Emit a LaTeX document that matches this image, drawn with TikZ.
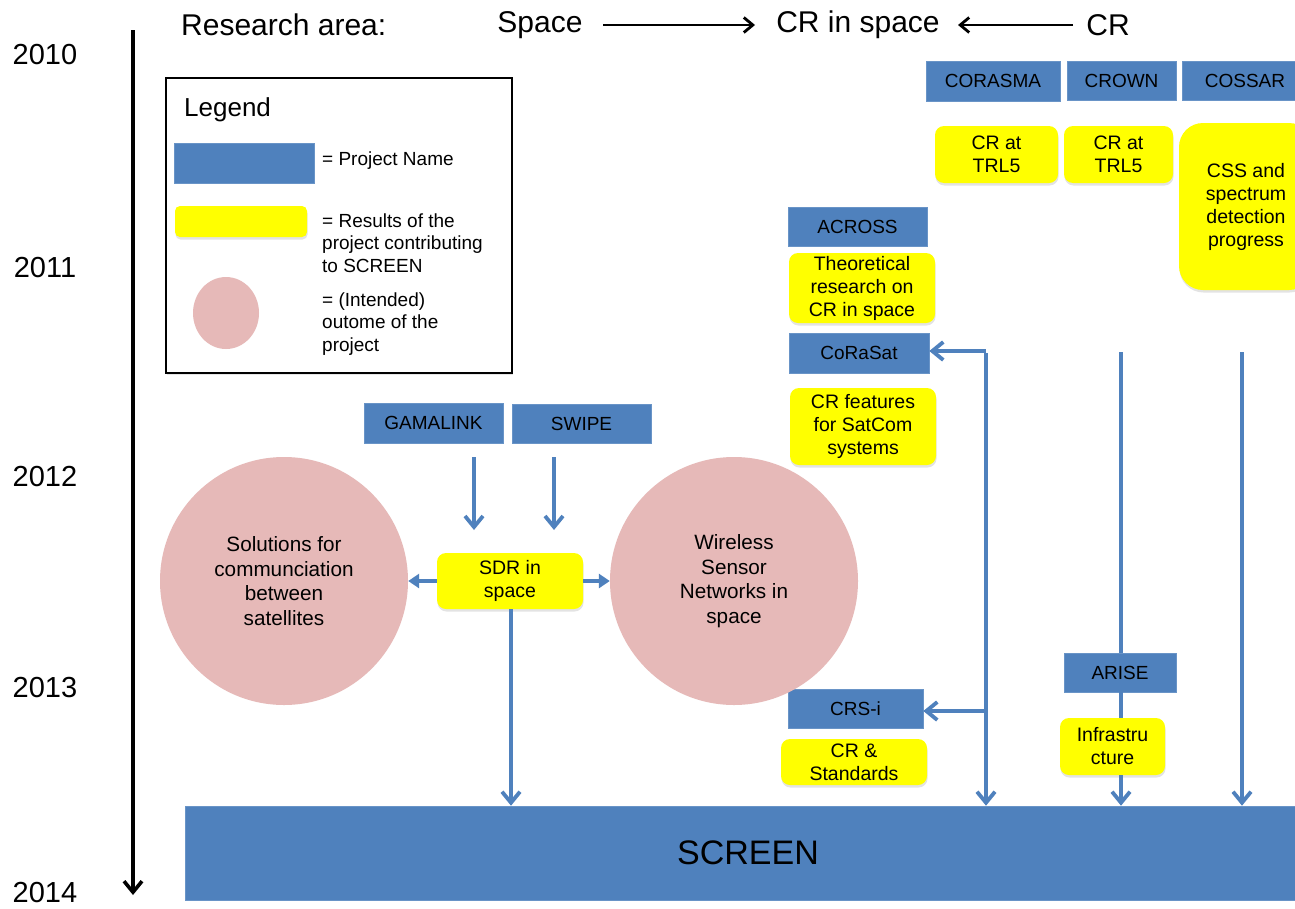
\documentclass[tikz,border=0pt]{standalone}
\usepackage{fontspec}
\setmainfont{Liberation Sans}
\usetikzlibrary{arrows.meta,shadows,backgrounds,shapes.geometric}
\definecolor{pblue}{HTML}{4F81BD}
\definecolor{pyel}{HTML}{FFFF00}
\definecolor{ppink}{HTML}{E6B9B8}
\begin{document}
\begin{tikzpicture}[x=1pt,y=-1pt,
  proj/.style={fill=pblue, draw=pblue!85!white, line width=0.6pt, inner sep=0pt, font=\fontsize{19}{22}\selectfont},
  res/.style={fill=pyel, rounded corners=9pt, inner sep=0pt, align=center, font=\fontsize{19.5}{23}\selectfont, drop shadow={shadow xshift=0.5pt, shadow yshift=-2.5pt, opacity=0.22}},
  outc/.style={circle, fill=ppink, inner sep=0pt, minimum size=248pt, align=center, font=\fontsize{20.7}{24.5}\selectfont},
  flow/.style={pblue, line width=3.8pt, -{Straight Barb[length=11pt,width=18pt]}},
  tri/.style={pblue, line width=3.8pt, -{Triangle[length=11pt,width=14pt]}},
  hdr/.style={font=\fontsize{30}{33}\selectfont, inner sep=0pt},
  yr/.style={font=\fontsize{29}{32}\selectfont, inner sep=0pt},
  leg/.style={font=\fontsize{19}{22.5}\selectfont, align=left, anchor=west, inner sep=0pt},
  blk/.style={black, line width=2.8pt, -{Straight Barb[length=9pt,width=15pt]}},
]
\useasboundingbox (0,0) rectangle (1295,908);
\clip (0,0) rectangle (1295,908);
\fill[white] (0,0) rectangle (1295,908);

% header
\node[hdr, anchor=west] (ra) at (181,25) {Research area:};
\node[hdr] (sp) at (540,25) {Space};
\node[hdr] (crs) at (858,25) {CR in space};
\node[hdr] (cr) at (1108,25) {CR};
\coordinate (h1) at (603,25); \coordinate (h2) at (755,25);
\coordinate (h3) at (1073,25); \coordinate (h4) at (958,25);
\draw[blk] (h1) -- (h2);
\draw[blk] (h3) -- (h4);

% years and timeline
\node[yr] (y0) at (45,55) {2010};
\node[yr] (y1) at (45,268) {2011};
\node[yr] (y2) at (45,477) {2012};
\node[yr] (y3) at (45,688) {2013};
\node[yr] (y4) at (45,893) {2014};
\coordinate (t0) at (133,30);
\coordinate (t1) at (133,895);
\draw[black, line width=3.6pt, -{Straight Barb[length=11pt,width=18pt]}] (t0) -- (t1);

% legend
\node[draw=black, line width=1.5pt, fill=white, minimum width=346pt, minimum height=295pt, inner sep=0pt,
      drop shadow={shadow xshift=1pt, shadow yshift=-1.5pt, opacity=0.2}] (legend) at (339,225.5) {};
\node[font=\fontsize{26}{29}\selectfont, anchor=west, inner sep=0pt] (legt) at (184,110) {Legend};
\node[proj, minimum width=140pt, minimum height=40pt] (lp) at (244,163) {};
\node[leg] (lpt) at (322,161) {= Project Name};
\node[res, rounded corners=5pt, minimum width=132pt, minimum height=31pt] (lr) at (241,221.5) {};
\node[leg] (lrt) at (322,243) {= Results of the\\project contributing\\to SCREEN};
\node[ellipse, fill=ppink, minimum width=66pt, minimum height=72pt, inner sep=0pt] (lo) at (226,313) {};
\node[leg] (lot) at (322,324) {= (Intended)\\outome of the\\project};

% project boxes
\node[proj, minimum width=134pt, minimum height=40pt] (corasma) at (993,81) {CORASMA};
\node[proj, minimum width=109pt, minimum height=39pt] (crown) at (1121.5,80.5) {CROWN};
\node[proj, minimum width=126pt, minimum height=39pt] (cossar) at (1245,80.5) {COSSAR};
\node[proj, minimum width=139pt, minimum height=39pt] (across) at (857.5,226.5) {ACROSS};
\node[proj, minimum width=140pt, minimum height=40pt] (corasat) at (859,353) {CoRaSat};
\node[proj, minimum width=139pt, minimum height=40pt] (gamalink) at (433.5,423) {GAMALINK};
\node[proj, minimum width=139pt, minimum height=39pt] (swipe) at (581.5,423.5) {SWIPE};
\node[proj, minimum width=135pt, minimum height=39pt] (crsi) at (855.5,708.5) {CRS-i};

% result boxes
\node[res, minimum width=123pt, minimum height=57pt] (r1) at (996.5,154.5) {CR at\\TRL5};
\node[res, minimum width=109pt, minimum height=57pt] (r2) at (1118.5,154.5) {CR at\\TRL5};
\node[res, rounded corners=24pt, minimum width=134pt, minimum height=167pt] (r3) at (1246,206.5) {CSS and\\spectrum\\detection\\progress};
\node[res, minimum width=146pt, minimum height=70pt] (theo) at (862,288) {Theoretical\\research on\\CR in space};
\node[res, minimum width=146pt, minimum height=77pt] (feat) at (863,426.5) {CR features\\for SatCom\\systems};
\node[res, minimum width=146pt, minimum height=56pt] (sdr) at (510,581) {SDR in\\space};
\node[res, minimum width=146pt, minimum height=46pt] (std) at (854,762) {CR \&\\Standards};

% outcome circles
\node[outc] (sol) at (284,581) {Solutions for\\communciation\\between\\satellites};
\node[outc] (wsn) at (734,581) {Wireless\\Sensor\\Networks in\\space};

% SCREEN
\node[proj, minimum width=1126pt, minimum height=94pt, font=\fontsize{34}{37}\selectfont] (screen) at (748,853) {SCREEN};

% flows
\coordinate (g0) at (474,457); \coordinate (g1) at (474,530);
\coordinate (s0) at (554,457); \coordinate (s1) at (554,530);
\coordinate (j1) at (986,351);
\coordinate (j2) at (986,711);
\coordinate (c2) at (1121,352);
\coordinate (c3) at (1242,352);
\coordinate (sdrb) at (511,609);

\draw[pblue, line width=3.8pt] (c2) -- (1121,660);
\node[proj, minimum width=112pt, minimum height=39pt] (arise) at (1120,672.5) {ARISE};
\draw[pblue, line width=3.8pt] (arise.south -| c2) -- (1121,730);
\node[res, minimum width=105pt, minimum height=57pt] (infra) at (1112.5,746.5) {Infrastru\\cture};
\draw[flow] (infra.south -| c2) -- (c2 |- screen.north);

\draw[flow] (g0) -- (g1);
\draw[flow] (s0) -- (s1);
\draw[tri] (sdr.west) -- (sol.east);
\draw[tri] (sdr.east) -- (wsn.west);
\draw[flow] (sdrb) -- (sdrb |- screen.north);
\draw[pblue, line width=3.8pt] (j1 |- corasat.east) -- (j1 |- crsi.east);
\draw[flow] (j1 |- crsi.east) -- (j1 |- screen.north);
\draw[flow] (j1) -- (j1 -| corasat.east);
\draw[flow] (j2) -- (j2 -| crsi.east);
\draw[flow] (c3) -- (c3 |- screen.north);
\end{tikzpicture}
\end{document}
